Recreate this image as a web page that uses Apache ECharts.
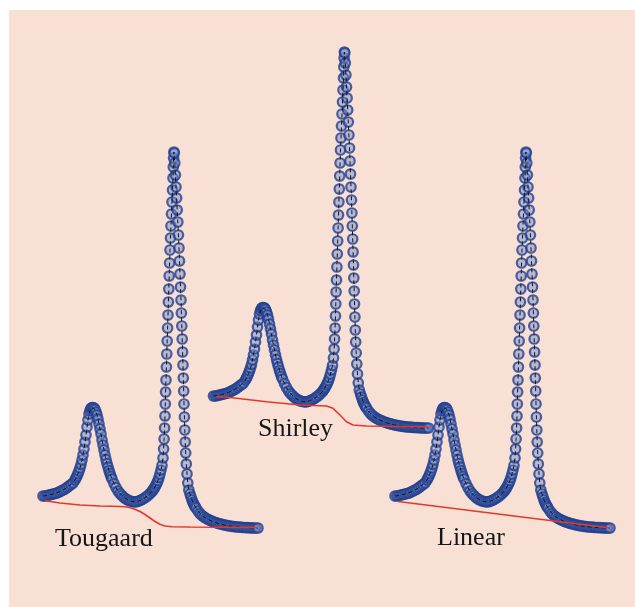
<!DOCTYPE html>
<html>
<head>
<meta charset="utf-8">
<title>XPS background subtraction</title>
<script src="https://cdn.jsdelivr.net/npm/echarts@6/dist/echarts.min.js"></script>
<style>
  html, body { margin: 0; padding: 0; background: #ffffff; overflow: hidden; }
  #chart { width: 635px; height: 607px; }
</style>
</head>
<body>
<div id="chart"></div>
<script>
// Measured spectrum: [energy offset (arb.), intensity (arb.)]
const spectrum = [
  [1,44],[3,44],[5,44.5],[7,45],[9,45.5],[11,46],[13,46.5],[15,47],[17,48],[19,49],
  [21,50],[23,51],[25,52.5],[27,54],[29,55.5],[31,57],[33,60],[34,62],[35,64],[36,66.5],
  [37,69],[38,72],[39,75.5],[40,80],[41,85],[42,91],[43,98],[44,105],[45,113],[46,120],
  [47,126],[48,129.5],[49,131.5],[50,132.5],[51,132.5],[52,132],[53,130.5],[54,128],[55,125],[56,121],
  [57,116],[58,111],[59,106],[60,100],[61,95],[62,90],[63,85],[64,80.5],[65,76.5],[66,73],
  [67,69.5],[68,66.5],[69,63.5],[70,61],[72,56.5],[74,52.5],[76,49],[78,46.5],[80,44.5],[82,42.5],
  [84,41],[86,40],[88,39],[90,38.5],[92,38.2],[94,38.2],[96,38.7],[98,39.5],[100,40.5],[102,41.7],
  [104,43],[106,44.5],[108,46.5],[110,48.5],[111,50],[112,51.5],[113,53],[114,55],[115,57],[116,59.5],
  [117,62.5],[118,66],[119,70],[120,74.5],
  [121,82],[121.6,91],[122.1,101],[122.6,112],[123,124],[123.3,136],[123.6,148],[124,160],[124.4,173],[124.8,186],
  [125.2,199],[125.6,212],[126,225],[126.4,238],[126.8,251],[127.2,264],[127.6,277],[128,290],[128.5,302],[129,314],
  [129.5,326],[130,338],[130.5,350],[131,362],[131.3,373],[131.6,382],[131.9,388],
  [132.3,387],[132.8,377],[133.4,365],[134,353],[134.6,342],[135.2,330],[135.8,318],[136.4,305],[137,292],[137.5,279],
  [138,266],[138.5,253],[139,240],[139.4,227],[139.8,214],[140.2,201],[140.6,188],[141,175],[141.3,162],[141.7,149],
  [142,136],[142.4,123],[142.8,110],[143.2,98],[143.7,87],[144.3,76],[145,66],[145.8,57],[146.8,50],
  [148,46],[149,43],[150,40],[151,37.5],[152,35.5],[153,33.5],[154,32],[156,29],[158,26.5],[160,24.5],
  [162,23],[164,21.7],[166,20.7],[168,19.7],[170,18.8],[172,18],[174,17.3],[176,16.7],[178,16.1],[180,15.6],
  [182,15.1],[184,14.7],[186,14.3],[188,14],[190,13.7],[192,13.4],[194,13.2],[196,13],[198,12.8],[200,12.7],
  [202,12.5],[204,12.4],[206,12.3],[208,12.2],[210,12.1],[212,12],[214,12],[216,12]
];

// Background models for the same spectrum
const tougaardBg = [
  [3,39.3],[18,37],[38,35],[58,34],[78,33.5],[85,33],[91,31.5],[98,28.5],[103,25.5],[108,22],
  [113,18.5],[118,15.7],[123,14],[130,13.3],[148,13],[178,12.8],[216,12.5]
];
const shirleyBg = [
  [4,43.5],[17.5,42.5],[54,38.3],[87.5,35],[114,34],[120.5,31.7],[127.5,25],[134,18.3],
  [140.5,15],[154,14],[216,13]
];
const linearBg = [[4,38.5],[216,12]];

const panelNames = ['Tougaard', 'Shirley', 'Linear'];
const panelBackgrounds = [tougaardBg, shirleyBg, linearBg];

// Panel placement (px) and label anchors
const panelBoxes = [
  { left: 42,    top: 140 },
  { left: 212.5, top: 40  },
  { left: 394,   top: 140 }
];
const labelAnchors = [
  { x: 55,  y: 539 },
  { x: 258, y: 429 },
  { x: 437, y: 538 }
];

const X_MAX = 216, Y_MAX = 400;

const grids = [], xAxes = [], yAxes = [], series = [], graphics = [];

graphics.push({
  type: 'rect', z: -10, silent: true,
  shape: { x: 9, y: 10, width: 700, height: 700 },
  style: { fill: '#f8e0d5' }
});

panelNames.forEach((name, i) => {
  grids.push({ left: panelBoxes[i].left, top: panelBoxes[i].top, width: X_MAX, height: Y_MAX });
  xAxes.push({ type: 'value', gridIndex: i, min: 0, max: X_MAX, show: false });
  yAxes.push({ type: 'value', gridIndex: i, min: 0, max: Y_MAX, show: false });

  series.push({
    name: name + ' data',
    type: 'scatter',
    xAxisIndex: i, yAxisIndex: i,
    data: spectrum,
    symbol: 'circle',
    symbolSize: 9.5,
    itemStyle: { color: 'rgba(120,140,200,0.6)', borderColor: '#22408f', borderWidth: 2.2 },
    z: 2, silent: true
  });
  series.push({
    name: name + ' trace',
    type: 'line',
    xAxisIndex: i, yAxisIndex: i,
    data: spectrum,
    showSymbol: false,
    lineStyle: { color: '#141414', width: 1, type: [4, 3] },
    z: 3, silent: true
  });
  series.push({
    name: name + ' background',
    type: 'line',
    xAxisIndex: i, yAxisIndex: i,
    data: panelBackgrounds[i],
    showSymbol: false,
    lineStyle: { color: '#e2392b', width: 1.6 },
    z: 4, silent: true
  });

  graphics.push({
    type: 'text', z: 10, silent: true,
    style: {
      text: name,
      x: labelAnchors[i].x, y: labelAnchors[i].y,
      font: '26px "Liberation Serif", "Times New Roman", serif',
      fill: '#161616',
      align: 'left', verticalAlign: 'middle'
    }
  });
});

const chart = echarts.init(document.getElementById('chart'), null, { renderer: 'canvas' });
chart.setOption({
  backgroundColor: '#ffffff',
  animation: false,
  grid: grids,
  xAxis: xAxes,
  yAxis: yAxes,
  series: series,
  graphic: graphics
});
</script>
</body>
</html>
